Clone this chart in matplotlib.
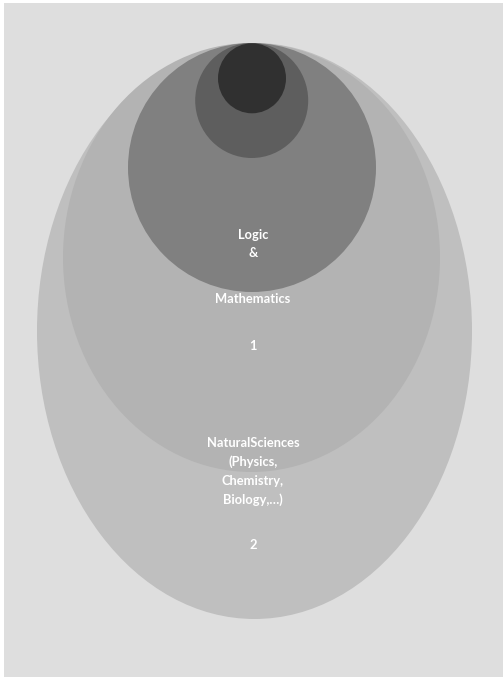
import matplotlib
matplotlib.use("Agg")
import matplotlib.pyplot as plt
from matplotlib.patches import Ellipse, Rectangle

# nested ellipses, outermost first (pixel units, y grows downward)
centers_x = [254.5, 251.5, 252.0, 251.7, 252.0]
centers_y = [331.0, 257.5, 167.5, 100.5, 78.3]
widths = [435, 377, 248, 113, 68]
heights = [576, 429, 249, 115, 70]
fills = ["#bfbfbf", "#b3b3b3", "#808080", "#5e5e5e", "#303030"]

label_lines = ["Logic", "&", "Mathematics", "1",
               "NaturalSciences", "(Physics,", "Chemistry,", "Biology,\u2026)", "2"]
label_y = [235, 253, 299, 346, 443, 462, 481, 500, 545]

W, H = 503, 677
fig = plt.figure(figsize=(W / 100, H / 100), dpi=100, facecolor="white")
ax = fig.add_axes([0, 0, 1, 1])
ax.set_xlim(0, W)
ax.set_ylim(H, 0)
ax.axis("off")

ax.add_patch(Rectangle((4, 3), W - 4, H - 3, facecolor="#dedede", edgecolor="none"))

for cx, cy, w, h, c in zip(centers_x, centers_y, widths, heights, fills):
    ax.add_patch(Ellipse((cx, cy), w, h, facecolor=c, edgecolor="none"))

for txt, y in zip(label_lines, label_y):
    ax.text(253, y, txt, ha="center", va="center", color="white",
            fontsize=9.3, fontweight="bold", family=["Lato", "DejaVu Sans"])

fig.savefig("out.png", dpi=100, facecolor=fig.get_facecolor())
